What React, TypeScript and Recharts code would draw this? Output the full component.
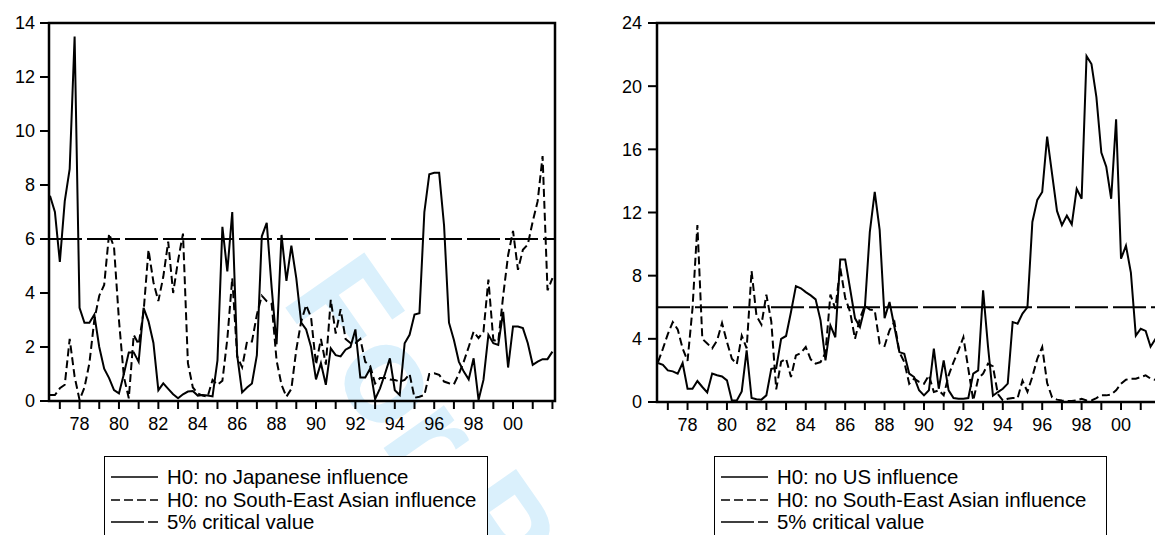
import { LineChart, Line, XAxis, YAxis, ReferenceLine, ReferenceArea } from "recharts";

// quarterly rolling test statistics, first observation 1976Q3
const firstObs = 1976.5;
const xDomain: [number, number] = [1976.45, 2002.13];
const yearTicks = [
  1977, 1978, 1979, 1980, 1981, 1982, 1983, 1984, 1985, 1986, 1987, 1988, 1989,
  1990, 1991, 1992, 1993, 1994, 1995, 1996, 1997, 1998, 1999, 2000, 2001, 2002,
];
const labelledYears = [
  1978, 1980, 1982, 1984, 1986, 1988, 1990, 1992, 1994, 1996, 1998, 2000,
];
const criticalValue = 6;

const japan = [
  7.6, 7.0, 5.15, 7.4, 8.6, 13.5, 3.45, 2.9, 2.9, 3.2, 2.0, 1.2, 0.85, 0.4, 0.28, 1.0,
  1.8, 1.8, 1.45, 3.45, 2.95, 2.15, 0.4, 0.65, 0.45, 0.25, 0.1, 0.25, 0.35, 0.37, 0.2, 0.22,
  0.2, 0.17, 1.5, 6.45, 4.8, 7.0, 1.7, 0.32, 0.5, 0.65, 1.7, 6.1, 6.6, 4.2, 2.1, 6.15,
  4.45, 5.75, 4.55, 2.9, 2.65, 2.0, 0.8, 1.4, 0.6, 1.95, 1.7, 1.65, 1.9, 2.0, 2.65, 0.87,
  0.87, 1.2, 0.07, 0.47, 1.0, 1.58, 0.4, 0.22, 2.14, 2.45, 3.2, 3.25, 7.0, 8.4, 8.45, 8.45,
  6.5, 2.9, 2.26, 1.46, 1.09, 0.8, 1.58, 0.04, 0.78, 2.45, 2.14, 2.08, 3.3, 1.24, 2.76, 2.76,
  2.7, 2.14, 1.34, 1.46, 1.55, 1.55, 1.83,
];

const seAsiaLeft = [
  0.22, 0.22, 0.47, 0.6, 2.3, 0.9, 0.04, 0.5, 1.4, 3.0, 3.9, 4.3, 6.2, 5.7, 3.0, 0.9,
  0.1, 2.45, 2.1, 3.3, 5.6, 4.4, 3.7, 4.6, 5.9, 4.0, 5.2, 6.2, 1.4, 0.5, 0.28, 0.2,
  0.16, 0.78, 0.6, 0.75, 2.3, 4.55, 1.65, 1.25, 2.2, 2.2, 3.2, 3.9, 3.7, 3.6, 1.5, 0.6,
  0.16, 0.45, 1.9, 2.95, 3.55, 3.1, 1.35, 2.3, 1.35, 3.75, 2.5, 3.4, 2.3, 2.15, 2.15, 2.3,
  1.45, 1.3, 0.65, 0.85, 0.85, 0.8, 0.78, 0.72, 0.78, 1.0, 0.12, 0.16, 0.22, 1.0, 1.03, 0.97,
  0.72, 0.66, 0.62, 1.0, 1.46, 2.0, 2.57, 2.33, 2.57, 4.5, 2.26, 2.2, 3.9, 5.4, 6.3, 4.86,
  5.6, 5.8, 6.65, 7.4, 9.07, 4.1, 4.55,
];

const us = [
  2.47, 2.36, 2.0, 1.94, 1.8, 2.47, 0.84, 0.84, 1.33, 0.95, 0.6, 1.8, 1.69, 1.62, 1.37, 0.1,
  0.1, 0.67, 3.27, 0.25, 0.17, 0.15, 0.42, 2.1, 2.15, 4.0, 4.18, 5.7, 7.34, 7.2, 6.96, 6.75,
  6.5, 5.17, 2.64, 4.85, 4.1, 9.03, 9.03, 7.17, 5.3, 4.75, 6.0, 10.76, 13.3, 10.9, 5.3, 6.33,
  4.75, 3.16, 3.06, 1.8, 1.58, 0.74, 0.42, 0.74, 3.38, 0.84, 2.64, 0.74, 0.25, 0.2, 0.2, 0.25,
  1.8, 2.0, 7.07, 3.5, 0.4, 0.63, 0.84, 1.16, 5.06, 4.96, 5.6, 6.0, 11.4, 12.8, 13.3, 16.8,
  14.45, 12.1, 11.2, 11.8, 11.25, 13.5, 12.87, 21.9, 21.4, 19.3, 15.8, 14.9, 12.87, 17.9, 9.07, 9.9,
  8.2, 4.2, 4.64, 4.5, 3.5, 4.0, 4.3,
];

const seAsiaRight = [
  2.53, 3.38, 4.3, 5.06, 4.6, 3.4, 2.6, 5.9, 11.2, 4.0, 3.7, 3.4, 3.9, 5.0, 3.8, 2.74,
  2.4, 4.2, 3.4, 8.3, 5.45, 4.9, 6.8, 5.1, 0.8, 2.55, 2.74, 1.58, 2.95, 3.1, 3.48, 2.7,
  2.43, 2.53, 3.1, 6.8, 5.9, 8.5, 6.6, 5.7, 4.0, 5.3, 6.1, 5.86, 5.8, 3.7, 3.55, 4.54,
  5.06, 3.16, 2.53, 1.16, 1.48, 1.27, 1.16, 1.69, 0.63, 0.74, 0.42, 1.69, 2.53, 3.27, 4.1, 2.1,
  0.1, 1.48, 1.8, 2.43, 2.25, 0.5, 0.1, 0.2, 0.25, 0.25, 1.35, 0.65, 1.6, 2.74, 3.48, 1.2,
  0.3, 0.15, 0.1, 0.06, 0.06, 0.1, 0.2, 0.1, 0.1, 0.25, 0.42, 0.42, 0.48, 0.74, 1.16, 1.41,
  1.48, 1.48, 1.58, 1.69, 1.48, 1.4, 1.4,
];

const leftTicks = [0, 2, 4, 6, 8, 10, 12, 14];
const rightTicks = [0, 4, 8, 12, 16, 20, 24];

const font = "'Liberation Sans', Arial, Helvetica, sans-serif";
const tickStyle = { fontFamily: font, fontSize: 18, fill: "#000" };

const toRows = (solid: number[], dashed: number[]) =>
  solid.map((v, i) => ({ t: firstObs + i / 4, solid: v, dashed: dashed[i] }));

const yearLabel = (v: number) => (labelledYears.includes(v) ? String(v).slice(2) : "");

type PanelProps = {
  left: number;
  width: number;
  yWidth: number;
  tickMargin: number;
  marginRight: number;
  marginBottom: number;
  yMax: number;
  yTicks: number[];
  solid: number[];
  dashed: number[];
};

const Panel = (p: PanelProps) => (
  <div style={{ position: "absolute", left: p.left, top: 0 }}>
    <LineChart
      width={p.width}
      height={440}
      data={toRows(p.solid, p.dashed)}
      margin={{ top: 23, right: p.marginRight, bottom: p.marginBottom, left: 0 }}
    >
      <XAxis
        dataKey="t"
        type="number"
        domain={xDomain}
        ticks={yearTicks}
        interval={0}
        tickFormatter={yearLabel}
        tick={tickStyle}
        tickSize={8}
        tickMargin={8}
        height={30}
        axisLine={{ stroke: "#000", strokeWidth: 2 }}
        tickLine={{ stroke: "#000", strokeWidth: 2 }}
      />
      <YAxis
        type="number"
        domain={[0, p.yMax]}
        ticks={p.yTicks}
        interval={0}
        width={p.yWidth}
        tick={tickStyle}
        tickSize={9}
        tickMargin={p.tickMargin}
        axisLine={{ stroke: "#000", strokeWidth: 2 }}
        tickLine={{ stroke: "#000", strokeWidth: 2 }}
      />
      <ReferenceArea
        x1={xDomain[0]}
        x2={xDomain[1]}
        y1={0}
        y2={p.yMax}
        fill="none"
        fillOpacity={0}
        stroke="#000"
        strokeWidth={2.5}
      />
      <ReferenceLine y={criticalValue} stroke="#000" strokeWidth={2} strokeDasharray="33 5" />
      <Line
        type="linear"
        dataKey="dashed"
        stroke="#000"
        strokeWidth={2}
        strokeDasharray="8 4"
        dot={false}
        isAnimationActive={false}
      />
      <Line
        type="linear"
        dataKey="solid"
        stroke="#000"
        strokeWidth={2}
        dot={false}
        isAnimationActive={false}
      />
    </LineChart>
  </div>
);

const LegendBox = ({ left, width, first }: { left: number; width: number; first: string }) => {
  const rows = [
    { label: first, dash: undefined },
    { label: "H0: no South-East Asian influence", dash: "9 4" },
    { label: "5% critical value", dash: "33 4" },
  ];
  return (
    <div
      style={{
        position: "absolute",
        left,
        top: 456,
        width,
        height: 100,
        boxSizing: "border-box",
        border: "1.5px solid #000",
        background: "#fff",
        paddingTop: 9,
        fontFamily: font,
        fontSize: 20.4,
        color: "#000",
      }}
    >
      {rows.map((r) => (
        <div key={r.label} style={{ display: "flex", alignItems: "center", height: 22.5 }}>
          <svg width={47} height={6} style={{ marginLeft: 6, marginRight: 9 }}>
            <line x1={0} y1={3} x2={47} y2={3} stroke="#000" strokeWidth={1.5} strokeDasharray={r.dash} />
          </svg>
          <span style={{ lineHeight: "22px", whiteSpace: "nowrap" }}>{r.label}</span>
        </div>
      ))}
    </div>
  );
};

const App = () => (
  <div
    style={{
      position: "fixed",
      left: 0,
      top: 0,
      width: 1155,
      height: 535,
      overflow: "hidden",
      background: "#fff",
    }}
  >
    <svg width={1155} height={535} style={{ position: "absolute", left: 0, top: 0 }}>
      <text
        x={280}
        y={300}
        transform="rotate(55 280 300)"
        fontFamily={font}
        fontWeight="bold"
        fontSize={140}
        fill="#daf0fc"
      >
        For Peer Review
      </text>
    </svg>
    <Panel
      left={0}
      width={570}
      yWidth={49}
      tickMargin={5}
      marginRight={15}
      marginBottom={9}
      yMax={14}
      yTicks={leftTicks}
      solid={japan}
      dashed={seAsiaLeft}
    />
    <Panel
      left={600}
      width={580}
      yWidth={57}
      tickMargin={6}
      marginRight={17}
      marginBottom={8}
      yMax={24}
      yTicks={rightTicks}
      solid={us}
      dashed={seAsiaRight}
    />
    <LegendBox left={104} width={384} first="H0: no Japanese influence" />
    <LegendBox left={714} width={393} first="H0: no US influence" />
  </div>
);

export default App;
